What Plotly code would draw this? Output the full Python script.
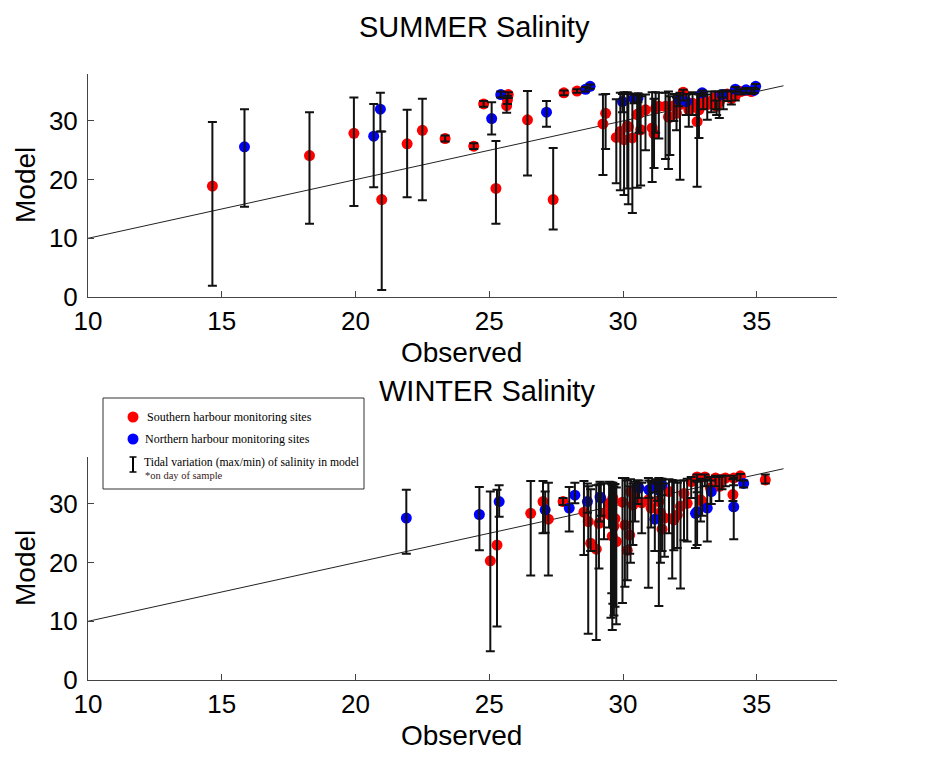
import plotly.graph_objects as go

# ---------------- DATA ----------------
# SUMMER - Southern harbour (red)
sum_s_obs = [14.65, 18.28, 19.94, 20.98, 21.93, 22.5, 23.35, 24.42, 24.79, 25.25, 25.65, 25.71, 25.68, 26.43, 27.39, 27.79, 28.28,
             29.25, 29.35, 29.75, 29.9, 30.04, 30.16, 30.2, 30.35, 30.53, 30.6, 30.66, 30.84, 31.09, 31.16, 31.22, 31.34, 31.59, 31.7, 31.75, 31.9,
             32.0, 32.13, 32.25, 32.46, 32.6, 32.77, 32.84, 33.0, 33.15, 33.3, 33.45, 33.5, 33.6, 33.75, 33.9, 34.05, 34.2, 34.4, 34.6, 34.8]
sum_s_mod = [18.9, 24.1, 27.9, 16.6, 26.1, 28.4, 27.0, 25.7, 32.9, 18.5, 32.6, 34.5, 33.6, 30.2, 16.6, 34.8, 35.1,
             29.5, 31.3, 27.2, 28.2, 26.8, 29.1, 29.0, 27.1, 31.1, 31.3, 28.5, 31.9, 28.8, 27.8, 32.2, 32.5, 32.5, 30.7, 30.6, 32.6,
             31.3, 32.8, 34.9, 31.9, 33.0, 29.9, 31.9, 33.5, 32.8, 33.4, 34.0, 32.5, 33.2, 34.1, 34.6, 33.8, 34.3, 35.0, 35.2, 35.0]
sum_s_min = [1.9, 12.5, 15.5, 1.2, 17.0, 16.5, 26.5, 25.2, 32.4, 12.5, 31.4, 33.9, 32.9, 20.7, 11.5, 34.4, 34.8,
             20.8, 25.2, 19.4, 18.2, 17.4, 18.5, 15.8, 14.3, 18.6, 28.0, 19.0, 25.0, 19.6, 22.0, 28.0, 27.0, 23.5, 21.8, 24.2, 30.0,
             28.4, 20.0, 33.5, 29.0, 31.0, 18.8, 27.1, 32.0, 30.2, 31.5, 32.0, 31.0, 30.5, 32.0, 33.4, 32.8, 33.5, 34.5, 34.8, 34.6]
sum_s_max = [29.8, 31.5, 34.0, 28.2, 31.9, 33.8, 27.5, 26.2, 33.4, 26.6, 33.9, 34.9, 34.3, 35.1, 25.4, 35.2, 35.4,
             34.5, 34.6, 33.7, 34.8, 34.9, 34.9, 34.7, 34.6, 34.4, 34.5, 34.2, 34.5, 34.9, 33.8, 34.9, 34.8, 34.8, 35.0, 34.2, 34.6,
             34.0, 34.8, 35.3, 34.6, 34.9, 34.6, 34.5, 34.8, 34.5, 35.0, 35.0, 33.5, 35.0, 35.2, 35.2, 35.0, 35.0, 35.4, 35.5, 35.4]

# SUMMER - Northern harbour (blue)
sum_n_obs = [15.85, 20.68, 20.93, 25.09, 25.43, 27.14, 28.6, 28.77, 29.98, 30.41, 30.56, 32.09, 32.37, 32.96, 33.7, 34.2, 34.6, 34.9, 34.96]
sum_n_mod = [25.6, 27.4, 32.0, 30.4, 34.5, 31.5, 35.4, 35.9, 33.3, 33.8, 33.9, 33.6, 33.3, 34.8, 34.5, 35.4, 35.3, 35.2, 35.9]
sum_n_min = [15.4, 18.7, 28.2, 27.7, 34.0, 29.0, 35.0, 35.5, 31.5, 33.0, 33.2, 32.5, 31.0, 34.3, 34.0, 35.0, 34.8, 34.8, 35.4]
sum_n_max = [32.0, 32.9, 34.8, 33.2, 35.0, 33.4, 35.8, 36.2, 34.6, 34.5, 34.7, 34.4, 34.5, 35.2, 35.0, 35.8, 35.6, 35.6, 36.3]

# WINTER - Southern harbour (red)
win_s_obs = [25.04, 25.29, 26.55, 27.01, 27.21, 27.76, 28.54, 28.7, 28.79, 29.0, 29.1, 29.29, 29.48, 29.55, 29.58, 29.6, 29.62, 29.66, 29.7,
             29.75, 29.98, 30.07, 30.16, 30.25, 30.28, 30.37, 30.45, 30.7, 30.95, 31.05, 31.34, 31.4, 31.46, 31.55, 31.72, 31.84, 31.9,
             32.03, 32.15, 32.28, 32.4, 32.55, 32.77, 32.9, 32.96, 33.06, 33.27, 33.46, 33.6, 33.7, 33.83, 34.11, 34.14, 34.39, 35.32]
win_s_mod = [20.3, 23.0, 28.4, 30.4, 27.4, 30.4, 28.6, 27.0, 23.3, 22.3, 26.7, 28.4, 30.1, 28.0, 29.2, 24.5, 31.0, 26.2, 27.5,
             23.6, 30.3, 26.4, 22.1, 24.7, 32.1, 29.8, 31.0, 30.2, 30.7, 29.3, 30.4, 28.5, 25.7, 27.6, 32.1, 27.5, 27.3,
             28.1, 29.6, 31.8, 30.1, 33.8, 34.6, 30.7, 30.4, 34.6, 32.7, 34.4, 33.0, 34.2, 34.4, 31.6, 34.4, 34.8, 34.1]
win_s_min = [4.9, 9.1, 17.8, 25.0, 17.8, 29.8, 21.3, 7.9, 22.0, 6.8, 19.0, 24.0, 26.0, 10.6, 14.8, 8.5, 13.0, 11.0, 12.5,
             9.5, 13.1, 15.9, 17.0, 21.5, 20.0, 23.0, 27.0, 25.0, 15.7, 26.0, 12.6, 20.0, 22.0, 21.0, 25.0, 17.3, 22.1,
             22.5, 15.6, 23.8, 23.6, 31.0, 32.0, 27.0, 28.0, 33.0, 30.0, 33.0, 30.5, 32.5, 33.0, 30.5, 33.2, 34.0, 33.5]
win_s_max = [32.1, 32.4, 33.9, 33.9, 33.6, 31.0, 33.9, 33.0, 32.5, 33.2, 33.3, 33.5, 33.8, 33.7, 33.4, 33.2, 33.6, 33.0, 33.4,
             32.8, 34.4, 34.4, 34.0, 33.0, 34.2, 33.5, 33.8, 33.6, 34.4, 33.8, 34.4, 34.3, 34.0, 33.5, 34.2, 34.1, 33.8,
             33.6, 34.0, 34.0, 34.3, 34.6, 35.0, 34.3, 34.0, 35.0, 34.6, 34.8, 34.6, 34.8, 34.8, 34.2, 34.8, 35.1, 35.0]

# WINTER - Northern harbour (blue)
win_n_obs = [21.9, 24.63, 25.37, 27.09, 27.99, 28.2, 28.67, 29.14, 29.17, 30.54, 30.6, 30.97, 31.19, 31.22, 31.3, 31.46, 32.71, 32.77, 33.15, 33.3, 34.14, 34.51]
win_n_mod = [27.6, 28.2, 30.4, 29.0, 29.3, 31.5, 30.4, 31.2, 31.0, 32.9, 32.7, 32.4, 27.4, 33.2, 32.4, 33.2, 28.4, 28.7, 29.3, 32.1, 29.5, 33.5]
win_n_min = [21.5, 22.1, 27.8, 25.1, 25.3, 30.1, 28.5, 27.0, 28.0, 30.0, 31.0, 31.0, 22.0, 32.0, 30.5, 31.5, 22.5, 23.0, 23.6, 30.0, 24.0, 32.8]
win_n_max = [32.4, 32.9, 33.2, 32.1, 32.9, 33.6, 33.5, 33.8, 33.5, 34.0, 34.0, 34.0, 33.5, 34.2, 34.0, 34.3, 34.0, 33.8, 34.2, 34.0, 34.4, 34.0]

line_x = [10, 36]
line_y = [10, 36]

x_ticks = [10, 15, 20, 25, 30, 35]
y_ticks = [0, 10, 20, 30]

titles = ["SUMMER Salinity", "WINTER Salinity"]
legend_labels = ["Southern harbour monitoring sites", "Northern harbour monitoring sites",
                 "Tidal variation (max/min) of salinity in model", "*on day of sample"]

RED = "#FF0000"
BLUE = "#0000FF"
SANS = "Liberation Sans, Arial, sans-serif"
SERIF = "Liberation Serif, Times New Roman, serif"

fig = go.Figure()

def add_panel(xa, ya, groups):
    fig.add_trace(go.Scatter(x=line_x, y=line_y, mode="lines", line=dict(color="#222", width=1),
                             xaxis=xa, yaxis=ya, hoverinfo="skip"))
    for obs, mod, mn, mx, col in groups:
        fig.add_trace(go.Scatter(x=obs, y=mod, mode="markers", xaxis=xa, yaxis=ya,
                                 marker=dict(color=col, size=11, line=dict(width=0))))
    for obs, mod, mn, mx, col in groups:
        fig.add_trace(go.Scatter(
            x=obs, y=mod, mode="markers", xaxis=xa, yaxis=ya,
            marker=dict(color="rgba(0,0,0,0)", size=1),
            error_y=dict(type="data", symmetric=False,
                         array=[h - m for h, m in zip(mx, mod)],
                         arrayminus=[m - l for m, l in zip(mod, mn)],
                         color="#111", thickness=2, width=4.5),
            hoverinfo="skip"))

add_panel("x", "y", [(sum_s_obs, sum_s_mod, sum_s_min, sum_s_max, RED),
                     (sum_n_obs, sum_n_mod, sum_n_min, sum_n_max, BLUE)])
add_panel("x2", "y2", [(win_s_obs, win_s_mod, win_s_min, win_s_max, RED),
                       (win_n_obs, win_n_mod, win_n_min, win_n_max, BLUE)])

axis_common = dict(showline=True, linecolor="#444", linewidth=1, ticks="inside", ticklen=6,
                   tickcolor="#444", showgrid=False, zeroline=False, mirror=False,
                   tickfont=dict(family=SANS, size=26, color="black"))

fig.update_layout(
    width=935, height=778,
    margin=dict(l=88, r=98, t=74, b=98),
    paper_bgcolor="white", plot_bgcolor="white",
    showlegend=False,
    xaxis=dict(domain=[0, 1], anchor="y", range=[10, 38], tickvals=x_ticks, ticklabelstandoff=1, **axis_common),
    yaxis=dict(domain=[0.632, 1], anchor="x", range=[0, 38], tickvals=y_ticks, ticklabelstandoff=4, **axis_common),
    xaxis2=dict(domain=[0, 1], anchor="y2", range=[10, 38], tickvals=x_ticks, ticklabelstandoff=1, **axis_common),
    yaxis2=dict(domain=[0, 0.368], anchor="x2", range=[0, 38], tickvals=y_ticks, ticklabelstandoff=4, **axis_common),
)

def px_x(px):
    return (px - 88) / 749.0

def px_y(py):
    return (680 - py) / 606.0

ann = []
ann.append(dict(text=titles[0], x=px_x(474), y=px_y(27), xref="paper", yref="paper", showarrow=False,
                font=dict(family=SANS, size=29, color="black"), xanchor="center", yanchor="middle"))
ann.append(dict(text=titles[1], x=px_x(487), y=px_y(391), xref="paper", yref="paper", showarrow=False,
                font=dict(family=SANS, size=29, color="black"), xanchor="center", yanchor="middle"))
for yy in (352, 735):
    ann.append(dict(text="Observed", x=px_x(461), y=px_y(yy), xref="paper", yref="paper", showarrow=False,
                    font=dict(family=SANS, size=28, color="black"), xanchor="center", yanchor="middle"))
for yy in (185, 568):
    ann.append(dict(text="Model", x=px_x(25), y=px_y(yy), xref="paper", yref="paper", showarrow=False,
                    textangle=-90, font=dict(family=SANS, size=28, color="black"),
                    xanchor="center", yanchor="middle"))

# legend texts
ann.append(dict(text=legend_labels[0], x=px_x(145), y=px_y(417), xref="paper", yref="paper", showarrow=False,
                font=dict(family=SERIF, size=12, color="black"), xanchor="left", yanchor="middle"))
ann.append(dict(text=legend_labels[1], x=px_x(143), y=px_y(439), xref="paper", yref="paper", showarrow=False,
                font=dict(family=SERIF, size=12, color="black"), xanchor="left", yanchor="middle"))
ann.append(dict(text=legend_labels[2], x=px_x(142), y=px_y(462), xref="paper", yref="paper", showarrow=False,
                font=dict(family=SERIF, size=11.7, color="black"), xanchor="left", yanchor="middle"))
ann.append(dict(text=legend_labels[3], x=px_x(143), y=px_y(476), xref="paper", yref="paper", showarrow=False,
                font=dict(family=SERIF, size=10.5, color="#3a1a1a"), xanchor="left", yanchor="middle"))
fig.update_layout(annotations=ann)

shapes = []
shapes.append(dict(type="rect", xref="paper", yref="paper", x0=px_x(103), x1=px_x(364),
                   y0=px_y(489), y1=px_y(398), line=dict(color="#333", width=1), fillcolor="white", layer="above"))
for cy, col in ((417, RED), (439, BLUE)):
    shapes.append(dict(type="circle", xref="paper", yref="paper", xsizemode="pixel", ysizemode="pixel",
                       xanchor=px_x(133), yanchor=px_y(cy), x0=-5.5, x1=5.5, y0=-5.5, y1=5.5,
                       fillcolor=col, line=dict(width=0), layer="above"))
# I-beam symbol
shapes.append(dict(type="line", xref="paper", yref="paper", x0=px_x(133), x1=px_x(133),
                   y0=px_y(472), y1=px_y(457), line=dict(color="black", width=2), layer="above"))
for cy in (457, 472):
    shapes.append(dict(type="line", xref="paper", yref="paper", x0=px_x(129.5), x1=px_x(136.5),
                       y0=px_y(cy), y1=px_y(cy), line=dict(color="black", width=1.5), layer="above"))
fig.update_layout(shapes=shapes)

fig.write_html("out.html")
